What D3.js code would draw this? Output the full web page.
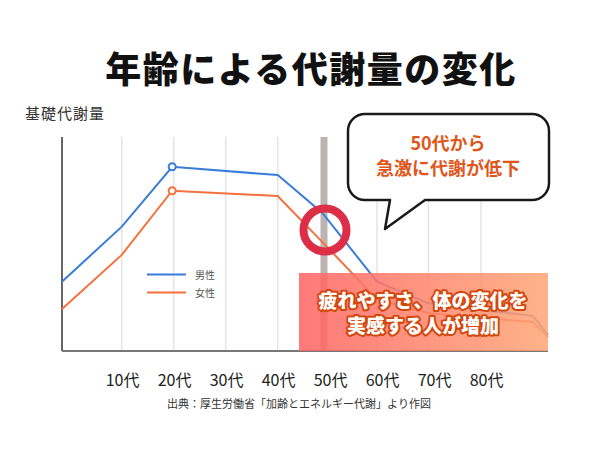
<!DOCTYPE html>
<html>
<head>
<meta charset="utf-8">
<script src="https://cdn.jsdelivr.net/npm/d3@7"></script>
<style>
  body { margin: 0; background: #fff; }
  svg { display: block; font-family: "Noto Sans CJK JP", "Noto Sans", sans-serif; }
</style>
</head>
<body>
<div id="vis"></div>
<script>
// chart data
const AGES = [0, 11.5, 21.2, 41.5, 50.1, 60.6, 70.4, 80.6, 90.6, 93.5];
const MALE = [32.4, 58.1, 86.1, 82.2, 64.5, 32.4, 22.4, 19.2, 16.4, 7.5];
const FEMALE = [19.6, 44.9, 74.9, 72.4, 50.9, 24.2, 17.8, 15.4, 13.6, 6.5];
const PEAK_INDEX = 2;
const SERIES_NAMES = ["男性", "女性"];
const GRID_AGES = [11.5, 21.5, 31.5, 41.5, 50.5, 60.6, 70.5, 80.6];
const DECADES = ["10代", "20代", "30代", "40代", "50代", "60代", "70代", "80代"];
const BAND_AGE = 50.4;

// frame
const FRAME_WIDTH = 615;
const FRAME_HEIGHT = 451;
const PLOT = {left: 62, right: 548, top: 137, bottom: 351};

const COLORS = {male: "#3a7dd8", female: "#f5703c"};

const FRAME = d3.select("#vis")
                .append("svg")
                  .attr("width", FRAME_WIDTH)
                  .attr("height", FRAME_HEIGHT);

// scales
const X_SCALE = d3.scaleLinear()
                  .domain([0, 93.5])
                  .range([PLOT.left, PLOT.right]);

const Y_SCALE = d3.scaleLinear()
                  .domain([0, 100])
                  .range([PLOT.bottom, PLOT.top]);

const LABEL_SCALE = d3.scalePoint()
                      .domain(DECADES)
                      .range([122, 486]);

// title + y label
FRAME.append("text")
      .attr("x", 311)
      .attr("y", 83)
      .attr("text-anchor", "middle")
      .attr("font-size", 36)
      .attr("font-weight", 900)
      .attr("letter-spacing", 1.5)
      .attr("fill", "#111")
      .text("年齢による代謝量の変化");

FRAME.append("text")
      .attr("x", 25)
      .attr("y", 119)
      .attr("font-size", 15)
      .attr("letter-spacing", 1)
      .attr("fill", "#333")
      .text("基礎代謝量");

// vertical gridlines
FRAME.selectAll(".grid")
      .data(GRID_AGES)
      .enter()
      .append("line")
        .attr("x1", d => X_SCALE(d))
        .attr("x2", d => X_SCALE(d))
        .attr("y1", PLOT.top)
        .attr("y2", PLOT.bottom)
        .attr("stroke", "#e4e4e4")
        .attr("stroke-width", 1.5);

// gray highlight band at 50代
FRAME.append("rect")
      .attr("x", X_SCALE(BAND_AGE) - 3.5)
      .attr("y", PLOT.top)
      .attr("width", 7)
      .attr("height", PLOT.bottom - PLOT.top)
      .attr("fill", "#bdb4b2");

// axes lines
FRAME.append("line")
      .attr("x1", PLOT.left).attr("x2", PLOT.left)
      .attr("y1", PLOT.top).attr("y2", PLOT.bottom)
      .attr("stroke", "#333")
      .attr("stroke-width", 1.5);

// lines
const LINE = d3.line()
               .x((d, i) => X_SCALE(AGES[i]))
               .y(d => Y_SCALE(d));

const SERIES = [
  {name: SERIES_NAMES[0], values: MALE, color: COLORS.male},
  {name: SERIES_NAMES[1], values: FEMALE, color: COLORS.female}
];

FRAME.selectAll(".series")
      .data(SERIES)
      .enter()
      .append("path")
        .attr("d", d => LINE(d.values))
        .attr("fill", "none")
        .attr("stroke", d => d.color)
        .attr("stroke-width", 2);

// peak markers
FRAME.selectAll(".peak")
      .data(SERIES)
      .enter()
      .append("circle")
        .attr("cx", X_SCALE(AGES[PEAK_INDEX]))
        .attr("cy", d => Y_SCALE(d.values[PEAK_INDEX]))
        .attr("r", 3.5)
        .attr("fill", "#fff")
        .attr("stroke", d => d.color)
        .attr("stroke-width", 2);

// legend
const LEGEND = FRAME.selectAll(".legend")
      .data(SERIES)
      .enter()
      .append("g")
        .attr("transform", (d, i) => "translate(147," + (274.5 + i * 18) + ")");

LEGEND.append("line")
      .attr("x1", 0).attr("x2", 39)
      .attr("stroke", d => d.color)
      .attr("stroke-width", 2);

LEGEND.append("text")
      .attr("x", 48)
      .attr("y", 4)
      .attr("font-size", 10)
      .attr("fill", "#555")
      .text(d => d.name);

// bottom axis
FRAME.append("line")
      .attr("x1", PLOT.left).attr("x2", PLOT.right)
      .attr("y1", PLOT.bottom).attr("y2", PLOT.bottom)
      .attr("stroke", "#777")
      .attr("stroke-width", 2);

const X_AXIS = FRAME.append("g")
      .attr("transform", "translate(0,375)")
      .call(d3.axisBottom(LABEL_SCALE).tickSize(0).tickPadding(0));

X_AXIS.select(".domain").remove();
X_AXIS.selectAll("text")
      .attr("font-size", 16)
      .attr("font-family", "'Noto Sans CJK JP', sans-serif")
      .attr("fill", "#222");

// source note
FRAME.append("text")
      .attr("x", 299)
      .attr("y", 408)
      .attr("text-anchor", "middle")
      .attr("font-size", 11)
      .attr("fill", "#333")
      .text("出典：厚生労働省「加齢とエネルギー代謝」より作図");

// red highlight circle
FRAME.append("circle")
      .attr("cx", 325)
      .attr("cy", 230)
      .attr("r", 21.5)
      .attr("fill", "none")
      .attr("stroke", "#dc2e46")
      .attr("stroke-width", 8);

// gradient box
const DEFS = FRAME.append("defs");
const GRAD = DEFS.append("linearGradient")
                 .attr("id", "boxGrad")
                 .attr("x1", "0%").attr("x2", "100%");
GRAD.append("stop").attr("offset", "0%").attr("stop-color", "#ff6161");
GRAD.append("stop").attr("offset", "100%").attr("stop-color", "#ffa574");

FRAME.append("rect")
      .attr("x", 299)
      .attr("y", 273)
      .attr("width", PLOT.right - 299)
      .attr("height", PLOT.bottom - 273)
      .attr("fill", "url(#boxGrad)")
      .attr("opacity", 0.85);

const BOX_LINES = ["疲れやすさ、体の変化を", "実感する人が増加"];
FRAME.selectAll(".boxText")
      .data(BOX_LINES)
      .enter()
      .append("text")
        .attr("x", 423)
        .attr("y", (d, i) => 308 + i * 25)
        .attr("text-anchor", "middle")
        .attr("font-size", 19)
        .attr("font-weight", 900)
        .attr("fill", "#fff")
        .attr("stroke", "#d4470c")
        .attr("stroke-width", 4)
        .attr("stroke-linejoin", "round")
        .attr("paint-order", "stroke")
        .text(d => d);

// speech bubble
const BUB = {x0: 348, x1: 549, y0: 114, y1: 200, r: 17};
const p = d3.path();
p.moveTo(BUB.x0 + BUB.r, BUB.y0);
p.lineTo(BUB.x1 - BUB.r, BUB.y0);
p.arcTo(BUB.x1, BUB.y0, BUB.x1, BUB.y0 + BUB.r, BUB.r);
p.lineTo(BUB.x1, BUB.y1 - BUB.r);
p.arcTo(BUB.x1, BUB.y1, BUB.x1 - BUB.r, BUB.y1, BUB.r);
p.lineTo(425, BUB.y1);
p.lineTo(385, 229);
p.lineTo(390, BUB.y1);
p.lineTo(BUB.x0 + BUB.r, BUB.y1);
p.arcTo(BUB.x0, BUB.y1, BUB.x0, BUB.y1 - BUB.r, BUB.r);
p.lineTo(BUB.x0, BUB.y0 + BUB.r);
p.arcTo(BUB.x0, BUB.y0, BUB.x0 + BUB.r, BUB.y0, BUB.r);
p.closePath();

FRAME.append("path")
      .attr("d", p.toString())
      .attr("fill", "#fff")
      .attr("stroke", "#1a1a1a")
      .attr("stroke-width", 2.5)
      .attr("stroke-linejoin", "round");

const BUBBLE_LINES = ["50代から", "急激に代謝が低下"];
FRAME.selectAll(".bubbleText")
      .data(BUBBLE_LINES)
      .enter()
      .append("text")
        .attr("x", 448)
        .attr("y", (d, i) => 150 + i * 25)
        .attr("text-anchor", "middle")
        .attr("font-size", 18)
        .attr("font-weight", 700)
        .attr("fill", "#e0561a")
        .text(d => d);
</script>
</body>
</html>
